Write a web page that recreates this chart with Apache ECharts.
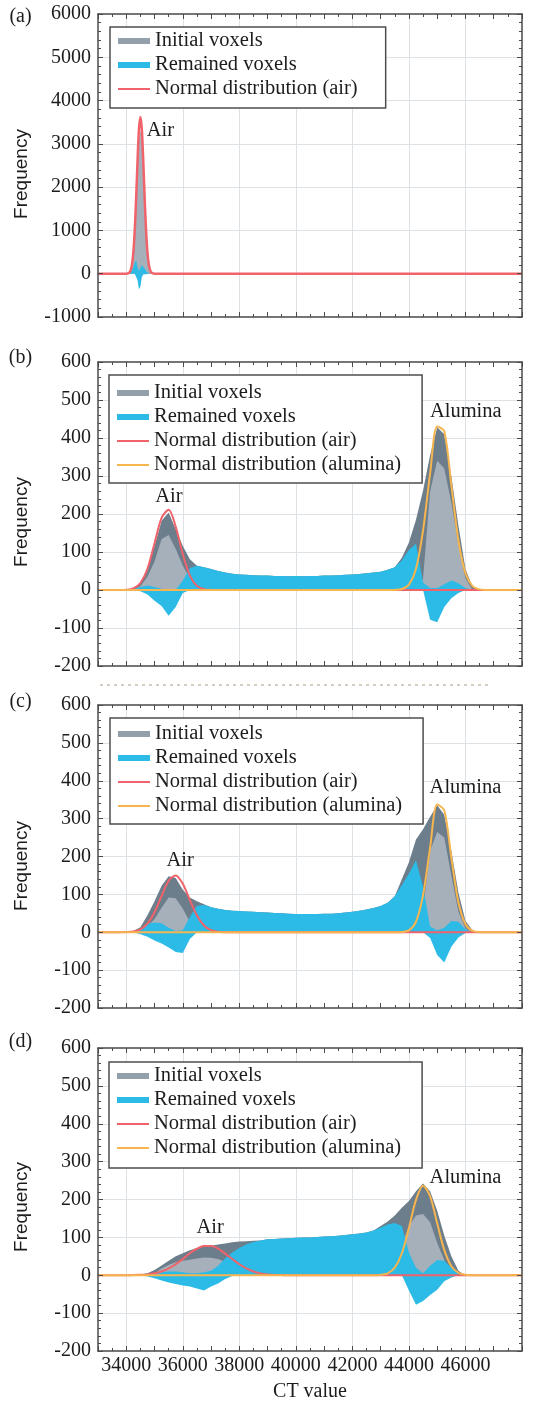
<!DOCTYPE html>
<html><head><meta charset="utf-8">
<script src="https://cdn.jsdelivr.net/npm/echarts@6/dist/echarts.min.js"></script>
<style>html,body{margin:0;padding:0;background:#fff}#c{width:533px;height:1405px}</style>
</head><body><div id="c"></div>
<script>
// ---------- DATA ----------
// CT value sample positions (panels b, c, d)
const ctValues = [
 33000,33250,33500,33750, 34000,34250,34500,34750, 35000,35250,35500,35750,
 36000,36250,36500,36750, 37000,37250,37500,37750, 38000,38250,38500,38750,
 39000,39250,39500,39750, 40000,40250,40500,40750, 41000,41250,41500,41750,
 42000,42250,42500,42750, 43000,43250,43500,43750, 44000,44250,44500,44750,
 45000,45250,45500,45750, 46000,46250,46500,46750, 47000,47250,47500,47750, 48000];
// CT value sample positions (panel a, narrow air peak)
const ctValuesA = [33000,34000,34100,34150,34200,34250,34300,34350,34400,34450,34500,
 34550,34600,34650,34700,34750,34800,34850,34900,35000,48000];

const xTickLabels = [34000,36000,38000,40000,42000,44000,46000];
const xGridValues = [34000,36000,38000,40000,42000,44000,46000];
const yGridValuesA = [0,1000,2000,3000,4000,5000];
const yGridValuesBCD = [-100,0,100,200,300,400,500];

// Panel (a)
const aInitialUpper = [0,0,10,25,60,250,700,1400,2300,3000,3300,3000,2300,1400,700,250,60,10,0,0,0];
const aInitialLower = [0,0,10,25,60,250,700,1400,2300,3000,3300,3000,2300,1400,700,250,60,10,0,0,0];
const aRemainedPos  = [0,0,10,30,80,150,260,310,150,60,80,200,190,120,60,20,0,0,0,0,0];
const aRemainedNeg  = [0,0,0,0,0,0,0,0,-150,-360,-300,-80,-20,-40,-10,0,0,0,0,0,0];
const aNormalAir    = [0,0,22,72,203,490,1006,1762,2629,3342,3620,3342,2629,1762,1006,490,203,72,22,1,0];

// Panel (b)
const bInitialUpper = [
 0,0,0,0, 0,3,20,55, 116,182,204,160, 116,81,64,60, 55,50,46,43, 41,40,39,38,
 38,37,37,36, 37,36,37,37, 38,38,39,40, 41,42,44,46, 48,53,60,85, 125,185,262,355,
 428,410,300,170, 55,8,0,0, 0,0,0,0, 0];
const bInitialLower = [
 0,0,0,0, 0,1,10,35, 75,134,145,108, 64,30,10,0, 0,0,0,0, 0,0,0,0,
 0,0,0,0, 0,0,0,0, 0,0,0,0, 0,0,0,0, 0,0,0,0, 0,0,30,260,
 340,320,230,120, 30,0,0,0, 0,0,0,0, 0];
const bRemainedPos = [
 0,0,0,0, 0,2,8,12, 8,3,0,0, 25,58,64,60, 55,50,46,43, 41,40,39,38,
 38,37,37,36, 37,36,37,37, 38,38,39,40, 41,42,44,46, 48,53,60,78, 105,122,20,5,
 5,15,25,18, 5,0,0,0, 0,0,0,0, 0];
const bRemainedNeg = [
 0,0,0,0, 0,0,-3,-12, -28,-42,-68,-45, -8,0,0,0, 0,0,0,0, 0,0,0,0,
 0,0,0,0, 0,0,0,0, 0,0,0,0, 0,0,0,0, 0,0,0,0, 0,0,0,-78,
 -85,-45,-22,-8, 0,0,0,0, 0,0,0,0, 0];
const bNormalAir = [
 0,0,0,0, 0.7,4.3,18.5,56, 123,190,211,166, 94,38,10.8,2.2, 0.3,0,0,0, 0,0,0,0,
 0,0,0,0, 0,0,0,0, 0,0,0,0, 0,0,0,0, 0,0,0,0, 0,0,0,0,
 0,0,0,0, 0,0,0,0, 0,0,0,0, 0];
const bNormalAlumina = [
 0,0,0,0, 0,0,0,0, 0,0,0,0, 0,0,0,0, 0,0,0,0, 0,0,0,0,
 0,0,0,0, 0,0,0,0, 0,0,0,0, 0,0,0,0, 0,0,0.3,2.5, 14,56,157,307,
 430,418,276,131, 44,10,1.7,0.2, 0,0,0,0, 0];

// Panel (c)
const cInitialUpper = [
 0,0,0,0, 0,3,13,45, 82,123,148,143, 112,92,82,74, 66,62,59,57, 56,55,54,53,
 52,51,50,49, 48,48,48,48, 49,49,50,52, 54,57,60,64, 69,78,95,140, 185,245,272,305,
 335,310,215,105, 30,5,0,0, 0,0,0,0, 0];
const cInitialLower = [
 0,0,0,0, 0,0,5,15, 35,65,92,90, 62,28,5,0, 0,0,0,0, 0,0,0,0,
 0,0,0,0, 0,0,0,0, 0,0,0,0, 0,0,0,0, 0,0,0,0, 0,0,60,215,
 265,250,150,55, 10,0,0,0, 0,0,0,0, 0];
const cRemainedPos = [
 0,0,0,0, 0,1,8,22, 26,24,12,3, 5,40,70,72, 66,62,59,57, 56,55,54,53,
 52,51,50,49, 48,48,48,48, 49,49,50,52, 54,57,60,64, 69,78,95,125, 155,190,120,15,
 5,12,30,28, 8,0,0,0, 0,0,0,0, 0];
const cRemainedNeg = [
 0,0,0,0, 0,0,-5,-12, -22,-30,-40,-52, -55,-18,0,0, 0,0,0,0, 0,0,0,0,
 0,0,0,0, 0,0,0,0, 0,0,0,0, 0,0,0,0, 0,0,0,0, 0,0,0,-15,
 -60,-80,-38,-14, -2,0,0,0, 0,0,0,0, 0];
const cNormalAir = [
 0,0,0,0, 0.4,2,7.6,22.8, 53,96,136,150, 128,85,44,18, 5.7,1.4,0.2,0, 0,0,0,0,
 0,0,0,0, 0,0,0,0, 0,0,0,0, 0,0,0,0, 0,0,0,0, 0,0,0,0,
 0,0,0,0, 0,0,0,0, 0,0,0,0, 0];
const cNormalAlumina = [
 0,0,0,0, 0,0,0,0, 0,0,0,0, 0,0,0,0, 0,0,0,0, 0,0,0,0,
 0,0,0,0, 0,0,0,0, 0,0,0,0, 0,0,0,0, 0,0,0,0.6, 5,28,98,224,
 337,322,197,79, 21,3.5,0.3,0, 0,0,0,0, 0];

// Panel (d)
const dInitialUpper = [
 0,0,0,0, 0,0,2,5, 14,26,38,50, 58,66,72,76, 78,81,84,87, 89,90,91,92,
 95,96,97,98, 99,100,100,101, 102,103,104,106, 108,110,113,118, 130,142,158,178, 196,222,242,222,
 170,105,50,12, 0,0,0,0, 0,0,0,0, 0];
const dInitialLower = [
 0,0,0,0, 0,0,0,0, 5,18,27,34, 38,41,44,47, 46,43,35,25, 10,0,0,0,
 0,0,0,0, 0,0,0,0, 0,0,0,0, 0,0,0,0, 0,0,0,80, 130,158,162,140,
 85,40,10,0, 0,0,0,0, 0,0,0,0, 0];
const dRemainedPos = [
 0,0,0,0, 0,0,1,3, 5,8,10,10, 8,5,5,8, 12,25,45,60, 72,82,88,92,
 95,96,97,98, 99,100,100,101, 102,103,104,106, 108,110,113,118, 126,134,138,130, 60,20,5,25,
 40,38,20,5, 0,0,0,0, 0,0,0,0, 0];
const dRemainedNeg = [
 0,0,0,0, 0,0,0,-3, -8,-14,-19,-23, -27,-30,-35,-40, -30,-22,-10,-2, 0,0,0,0,
 0,0,0,0, 0,0,0,0, 0,0,0,0, 0,0,0,0, 0,0,0,0, -40,-78,-68,-52,
 -38,-16,-6,0, 0,0,0,0, 0,0,0,0, 0];
const dNormalAir = [
 0,0,0,0, 0.1,0.4,1,2.3, 5.1,10,18,29, 43,58,70,77, 77,70,57,43, 29,18,10,4.9,
 2.3,0.9,0.4,0, 0,0,0,0, 0,0,0,0, 0,0,0,0, 0,0,0,0, 0,0,0,0,
 0,0,0,0, 0,0,0,0, 0,0,0,0, 0];
const dNormalAlumina = [
 0,0,0,0, 0,0,0,0, 0,0,0,0, 0,0,0,0, 0,0,0,0, 0,0,0,0,
 0,0,0,0, 0,0,0,0, 0,0,0,0, 0,0,0,0.2, 1,5.2,20,58, 125,199,236,208,
 137,67,24,6.6, 1.3,0.2,0,0, 0,0,0,0, 0];

// ---------- LAYOUT / STYLE ----------
const SERIF = '"Liberation Serif","Times New Roman",serif';
const SANS = '"Liberation Sans",Arial,sans-serif';
const DARK = '#6c7d8c', LIGHT = '#a6b0ba', MIDGRAY = '#93a0ac', CYAN = '#2cbbe7', RED = '#f0636b', ORANGE = '#f6b54e';
const GRIDC = '#dde2e7', AX = '#4a4a4a', TXT = '#1c1c1c';

const panels = [
  {tag:'(a)', x:ctValuesA, up:aInitialUpper, lo:aInitialLower, pos:aRemainedPos, neg:aRemainedNeg, air:aNormalAir, alu:null,
   yMin:-1000, yMax:6000, yInt:1000, yGrid:yGridValuesA, top:14, height:303, tagY:17, freqY:174, airW:2.5,
   legend:{left:110, top:27, padding:[3,28,8,8]},
   notes:[{text:'Air', at:[35210,3300]}]},
  {tag:'(b)', x:ctValues, up:bInitialUpper, lo:bInitialLower, pos:bRemainedPos, neg:bRemainedNeg, air:bNormalAir, alu:bNormalAlumina,
   yMin:-200, yMax:600, yInt:100, yGrid:yGridValuesBCD, top:362, height:304, tagY:357.5, freqY:522, airW:2,
   legend:{left:109, top:375, padding:[7,21,7,8]},
   notes:[{text:'Air', at:[35510,247]},{text:'Alumina', at:[46011,470]}]},
  {tag:'(c)', x:ctValues, up:cInitialUpper, lo:cInitialLower, pos:cRemainedPos, neg:cRemainedNeg, air:cNormalAir, alu:cNormalAlumina,
   yMin:-200, yMax:600, yInt:100, yGrid:yGridValuesBCD, top:705, height:303, tagY:702, freqY:866, airW:2,
   legend:{left:110, top:718, padding:[5,21,7,8]},
   notes:[{text:'Air', at:[35906,188]},{text:'Alumina', at:[46000,381]}]},
  {tag:'(d)', x:ctValues, up:dInitialUpper, lo:dInitialLower, pos:dRemainedPos, neg:dRemainedNeg, air:dNormalAir, alu:dNormalAlumina,
   yMin:-200, yMax:600, yInt:100, yGrid:yGridValuesBCD, top:1048, height:303, tagY:1042, freqY:1207, airW:2,
   legend:{left:109, top:1062, padding:[3,21,9,8]},
   notes:[{text:'Air', at:[36964,125]},{text:'Alumina', at:[46000,257]}]}
];

function pairs(xs, ys){ return xs.map((x,i)=>[x, ys[i]]); }
const LINE_ICON = 'path://M0,0H32V2H0Z';

const grid = [], xAxis = [], yAxis = [], series = [], legend = [], graphic = [];
panels.forEach((p, i) => {
  grid.push({left:98, right:11, top:p.top, height:p.height});
  const isLast = i === panels.length - 1;
  const tickStyle = {color:AX, width:1};
  const base = {gridIndex:i, type:'value', min:33000, max:48000, interval:1000};
  xAxis.push(Object.assign({}, base, {position:'bottom', z:6,
    axisLine:{show:true, onZero:false, lineStyle:{color:AX, width:1.5}},
    axisTick:{show:true, inside:true, length:5, lineStyle:tickStyle},
    minorTick:{show:true, splitNumber:2, length:3, lineStyle:tickStyle},
    axisLabel:{show:isLast, margin:5, fontFamily:SERIF, fontSize:20, color:TXT,
      formatter: v => xTickLabels.indexOf(v) >= 0 ? String(v) : ''},
    splitLine:{show:false},
    name: isLast ? 'CT value' : '', nameLocation:'middle', nameGap:31,
    nameTextStyle:{fontFamily:SERIF, fontSize:20, color:TXT}}));
  xAxis.push(Object.assign({}, base, {position:'top', z:6,
    axisLine:{show:true, onZero:false, lineStyle:{color:AX, width:1.5}},
    axisTick:{show:true, inside:true, length:5, lineStyle:tickStyle},
    minorTick:{show:true, splitNumber:2, length:3, lineStyle:tickStyle},
    axisLabel:{show:false}, splitLine:{show:false}}));
  const ybase = {gridIndex:i, type:'value', min:p.yMin, max:p.yMax, interval:p.yInt};
  yAxis.push(Object.assign({}, ybase, {position:'left', z:6,
    axisLine:{show:true, onZero:false, lineStyle:{color:AX, width:1.5}},
    axisTick:{show:true, inside:true, length:5, lineStyle:tickStyle},
    minorTick:{show:true, splitNumber:5, length:3, lineStyle:tickStyle},
    axisLabel:{show:true, margin:7, fontFamily:SERIF, fontSize:20, color:TXT, formatter: v => String(v)},
    splitLine:{show:false}}));
  yAxis.push(Object.assign({}, ybase, {position:'right', z:6,
    axisLine:{show:true, onZero:false, lineStyle:{color:AX, width:1.5}},
    axisTick:{show:true, inside:true, length:5, lineStyle:tickStyle},
    minorTick:{show:true, splitNumber:5, length:3, lineStyle:tickStyle},
    axisLabel:{show:false}, splitLine:{show:false}}));

  const xi = 2*i, yi = 2*i;
  const area = (name, ys, color) => ({type:'line', name, xAxisIndex:xi, yAxisIndex:yi, z:2,
    data:pairs(p.x, ys), symbol:'none', smooth:false, silent:true, animation:false,
    lineStyle:{width:0, color}, itemStyle:{color}, areaStyle:{color, opacity:1}});
  // grid lines (behind the data and the legend)
  series.push({type:'line', name:'grid'+i, xAxisIndex:xi, yAxisIndex:yi, data:[], silent:true, z:1,
    markLine:{z:1, silent:true, symbol:'none', label:{show:false}, animation:false,
      lineStyle:{color:GRIDC, width:1, type:'solid'},
      data:xGridValues.map(v => ({xAxis:v})).concat(p.yGrid.map(v => ({yAxis:v})))}});
  series.push(area('Initial voxels', p.up, DARK));
  series.push(area('Initial voxels', p.lo, LIGHT));
  series.push(area('Remained voxels', p.pos, CYAN));
  series.push(area('Remained voxels', p.neg, CYAN));
  series.push({type:'line', name:'Normal distribution (air)', xAxisIndex:xi, yAxisIndex:yi, z:3,
    data:pairs(p.x, p.air), symbol:'none', smooth:0.3, silent:true,
    lineStyle:{width:p.airW, color:RED}, itemStyle:{color:RED}});
  if (p.alu) {
    series.push({type:'line', name:'Normal distribution (alumina)', xAxisIndex:xi, yAxisIndex:yi, z:3,
      data:pairs(p.x, p.alu), symbol:'none', smooth:0.3, silent:true,
      lineStyle:{width:2, color:ORANGE}, itemStyle:{color:ORANGE}});
  }

  const ldata = [
    {name:'Initial voxels', icon:'rect', itemStyle:{color:MIDGRAY}},
    {name:'Remained voxels', icon:'rect', itemStyle:{color:CYAN}},
    {name:'Normal distribution (air)', icon:LINE_ICON, itemStyle:{color:RED}}];
  if (p.alu) ldata.push({name:'Normal distribution (alumina)', icon:LINE_ICON, itemStyle:{color:ORANGE}});
  legend.push({orient:'vertical', left:p.legend.left, top:p.legend.top, padding:p.legend.padding, z:8,
    itemWidth:32, itemHeight:6, itemGap:2, selectedMode:false,
    borderColor:'#4d4d4d', borderWidth:1.5, backgroundColor:'#ffffff',
    textStyle:{fontFamily:SERIF, fontSize:20.5, color:TXT, lineHeight:22}, data:ldata});

  graphic.push({type:'text', x:20.5, y:p.tagY, silent:true,
    style:{text:p.tag, font:'20px ' + SERIF, fill:TXT, textAlign:'center', textVerticalAlign:'middle'}});
  graphic.push({type:'text', x:22, y:p.freqY, rotation:Math.PI/2, silent:true,
    style:{text:'Frequency', font:'19px ' + SANS, fill:TXT, textAlign:'center', textVerticalAlign:'middle'}});
});
graphic.push({type:'line', silent:true, shape:{x1:100, y1:685, x2:490, y2:685},
  style:{stroke:'#c9bcae', lineWidth:1.5, lineDash:[3,4]}});

const chart = echarts.init(document.getElementById('c'), null, {renderer:'canvas'});
chart.setOption({animation:false, backgroundColor:'#ffffff', grid, xAxis, yAxis, series, legend, graphic});

// peak annotations placed through the axes' own scales
panels.forEach((p, i) => {
  p.notes.forEach(n => {
    const pt = chart.convertToPixel({xAxisIndex:2*i, yAxisIndex:2*i}, n.at);
    graphic.push({type:'text', x:pt[0], y:pt[1], silent:true, z:10,
      style:{text:n.text, font:'20.5px ' + SERIF, fill:TXT, textAlign:'center', textVerticalAlign:'middle'}});
  });
});
chart.setOption({graphic}, {replaceMerge:['graphic']});
</script>
</body></html>
